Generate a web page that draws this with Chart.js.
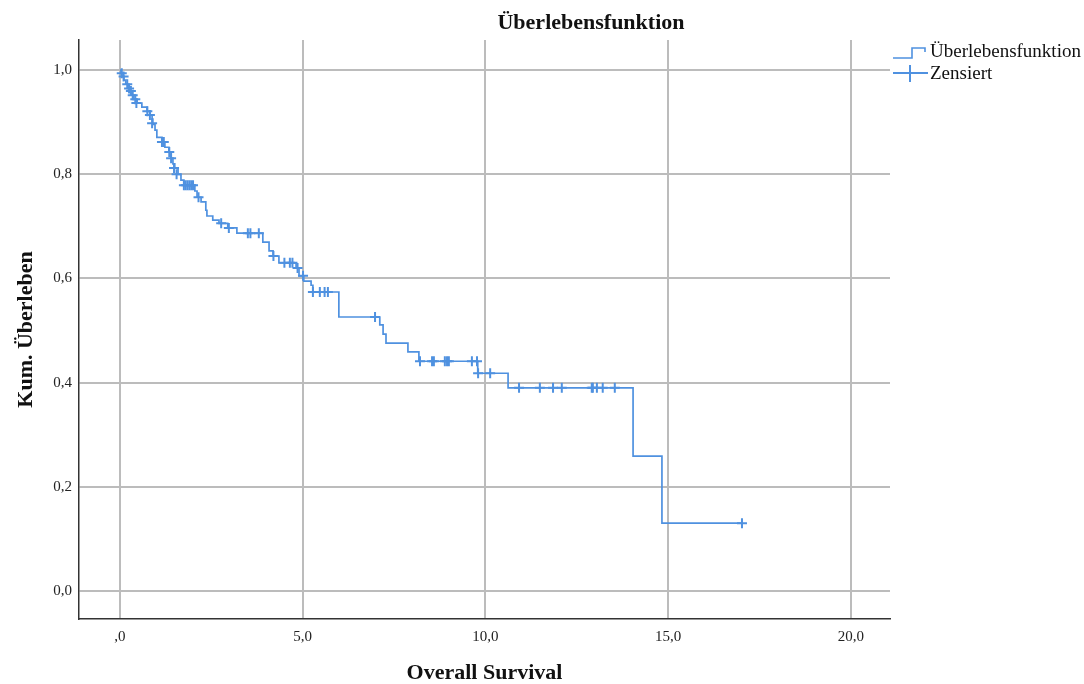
<!DOCTYPE html>
<html>
<head>
<meta charset="utf-8">
<script src="https://cdn.jsdelivr.net/npm/chart.js@4/dist/chart.umd.min.js"></script>
<style>
  html, body { margin: 0; padding: 0; background: #fff; }
  #wrap { width: 1084px; height: 684px; }
</style>
</head>
<body>
<div id="wrap"><canvas id="km"></canvas></div>
<script>
// Kaplan-Meier: event times and survival after each step
const eventTimes = [0, 0.03, 0.05, 0.11, 0.16, 0.22, 0.27, 0.33, 0.38, 0.47, 0.60, 0.74, 0.82, 0.88, 0.90, 0.96, 1.01,
  1.15, 1.23, 1.34, 1.40, 1.45, 1.50, 1.59, 1.67, 1.75, 2.05, 2.11, 2.22, 2.35, 2.38, 2.54, 2.71, 2.95, 3.20,
  3.91, 4.08, 4.19, 4.35, 4.82, 4.90, 5.03, 5.23, 5.28, 5.99, 7.11, 7.20, 7.28, 7.88, 8.18, 9.79, 10.62,
  14.04, 14.83, 17.02];
const survival = [1.0, 0.994, 0.988, 0.981, 0.973, 0.965, 0.960, 0.952, 0.944, 0.937, 0.929, 0.921, 0.914, 0.906, 0.896, 0.885, 0.871,
  0.862, 0.852, 0.843, 0.831, 0.820, 0.812, 0.800, 0.789, 0.779, 0.768, 0.756, 0.747, 0.731, 0.720, 0.712, 0.706, 0.697, 0.687,
  0.670, 0.653, 0.643, 0.630, 0.620, 0.605, 0.595, 0.587, 0.574, 0.526, 0.511, 0.493, 0.476, 0.459, 0.441, 0.418, 0.390,
  0.259, 0.130, 0.130];

// censored cases
const censorTimes = [0.05, 0.10, 0.20, 0.25, 0.30, 0.35, 0.42, 0.45, 0.75, 0.82, 0.88, 1.15, 1.20, 1.35, 1.40, 1.48, 1.55,
  1.75, 1.80, 1.85, 1.90, 1.95, 2.00, 2.15, 2.77, 2.98, 3.50, 3.57, 3.80,
  4.20, 4.50, 4.65, 4.72, 4.86, 5.01, 5.28, 5.47, 5.60, 5.69, 6.98,
  8.21, 8.54, 8.59, 8.89, 8.95, 9.00, 9.63, 9.77, 9.80, 10.13,
  10.92, 11.49, 11.85, 12.09, 12.91, 12.94, 13.05, 13.21, 13.54, 17.02];
const censorSurv = [0.994, 0.988, 0.973, 0.965, 0.960, 0.952, 0.944, 0.937, 0.921, 0.914, 0.898, 0.862, 0.862, 0.843, 0.831, 0.812, 0.800,
  0.779, 0.779, 0.779, 0.779, 0.779, 0.779, 0.756, 0.706, 0.697, 0.687, 0.687, 0.687,
  0.643, 0.630, 0.630, 0.630, 0.620, 0.605, 0.574, 0.574, 0.574, 0.574, 0.526,
  0.441, 0.441, 0.441, 0.441, 0.441, 0.441, 0.441, 0.441, 0.418, 0.418,
  0.390, 0.390, 0.390, 0.390, 0.390, 0.390, 0.390, 0.390, 0.390, 0.130];

const xTicks = [0, 5, 10, 15, 20];
const yTicks = [0, 0.2, 0.4, 0.6, 0.8, 1.0];

const blue = '#4f91e0';
const serif = '"Liberation Serif", "DejaVu Serif", serif';

const fmt = v => v.toFixed(1).replace('.', ',');

// title + legend drawn on top
const decorations = {
  id: 'decorations',
  afterDraw(chart) {
    const ctx = chart.ctx;
    ctx.save();
    ctx.fillStyle = '#111';
    ctx.font = 'bold 22px ' + serif;
    ctx.textAlign = 'center';
    ctx.textBaseline = 'middle';
    ctx.fillText('Überlebensfunktion', 591, 23);

    // legend
    const lx = chart.chartArea.right + 3;
    ctx.strokeStyle = blue;
    ctx.lineWidth = 1.6;
    ctx.beginPath();
    ctx.moveTo(lx, 58); ctx.lineTo(lx + 19, 58); ctx.lineTo(lx + 19, 48);
    ctx.lineTo(lx + 32, 48); ctx.lineTo(lx + 32, 52);
    ctx.stroke();
    ctx.lineWidth = 2;
    ctx.beginPath();
    ctx.moveTo(lx, 73); ctx.lineTo(lx + 35, 73);
    ctx.moveTo(lx + 17, 65); ctx.lineTo(lx + 17, 82);
    ctx.stroke();
    ctx.fillStyle = '#111';
    ctx.font = '19px ' + serif;
    ctx.textAlign = 'left';
    ctx.fillText(chart.data.datasets[0].label, lx + 37, 52);
    ctx.fillText(chart.data.datasets[1].label, lx + 37, 74);
    ctx.restore();
  }
};

new Chart(document.getElementById('km'), {
  type: 'scatter',
  data: {
    datasets: [
      {
        label: 'Überlebensfunktion',
        type: 'line',
        data: eventTimes.map((t, i) => ({ x: t, y: survival[i] })),
        stepped: true,
        borderColor: blue,
        borderWidth: 1.7,
        pointRadius: 0,
        fill: false
      },
      {
        label: 'Zensiert',
        data: censorTimes.map((t, i) => ({ x: t, y: censorSurv[i] })),
        pointStyle: 'cross',
        pointRadius: 5,
        borderColor: blue,
        backgroundColor: blue,
        borderWidth: 2,
        showLine: false
      }
    ]
  },
  options: {
    responsive: true,
    maintainAspectRatio: false,
    animation: false,
    layout: { padding: { top: 40, right: 194, left: 0, bottom: 0 } },
    plugins: {
      legend: { display: false },
      title: { display: false },
      tooltip: { enabled: false }
    },
    scales: {
      x: {
        type: 'linear',
        min: -1.12,
        max: 21.07,
        afterBuildTicks: s => { s.ticks = xTicks.map(v => ({ value: v })); },
        afterFit: s => { s.height = 65; },
        ticks: {
          callback: v => v === 0 ? ',0' : fmt(v),
          font: { family: serif, size: 15 },
          color: '#222',
          padding: 9,
          maxRotation: 0
        },
        grid: { color: '#bcbcbc', lineWidth: 2, drawTicks: false },
        border: { display: true, color: '#333', width: 1.5 },
        title: {
          display: true,
          text: 'Overall Survival',
          font: { family: serif, size: 22, weight: 'bold', lineHeight: 1 },
          color: '#111',
          padding: { top: 0, bottom: 0 }
        }
      },
      y: {
        type: 'linear',
        min: -0.054,
        max: 1.058,
        afterBuildTicks: s => { s.ticks = yTicks.map(v => ({ value: v })); },
        afterFit: s => { s.width = 79; },
        ticks: {
          callback: v => fmt(v),
          font: { family: serif, size: 15 },
          color: '#222',
          padding: 7
        },
        grid: { color: '#bcbcbc', lineWidth: 2, drawTicks: false },
        border: { display: true, color: '#333', width: 1.5 },
        title: {
          display: true,
          text: 'Kum. Überleben',
          font: { family: serif, size: 22, weight: 'bold', lineHeight: 1 },
          color: '#111',
          padding: { top: 15, bottom: 0 }
        }
      }
    }
  },
  plugins: [decorations]
});
</script>
</body>
</html>
